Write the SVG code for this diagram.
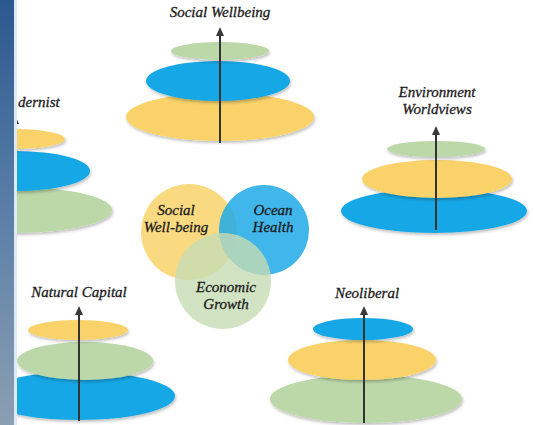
<svg xmlns="http://www.w3.org/2000/svg" width="535" height="425" viewBox="0 0 535 425">
<defs>
<linearGradient id="side" x1="0" y1="0" x2="0" y2="1">
<stop offset="0" stop-color="#2c5890"/>
<stop offset="0.5" stop-color="#5b7fa8"/>
<stop offset="1" stop-color="#8b9fb2"/>
</linearGradient>
<filter id="sh" x="-10%" y="-30%" width="120%" height="170%">
<feDropShadow dx="1" dy="2" stdDeviation="1.5" flood-color="#000" flood-opacity="0.25"/>
</filter>
<clipPath id="clipL"><rect x="17" y="0" width="518" height="425"/></clipPath>
</defs>
<style>
.t{font-family:"Liberation Serif","DejaVu Serif",serif;font-style:italic;font-size:15px;fill:#1a1a1a;stroke:#1a1a1a;stroke-width:0.3;text-anchor:middle}
.y{fill:#f9d36a;filter:url(#sh)}
.b{fill:#17a7e6;filter:url(#sh)}
.g{fill:#bcd8a9;filter:url(#sh)}
.ax{stroke:#333;stroke-width:2;fill:none}
.ah{fill:#3a3a3a}
</style>
<rect width="535" height="425" fill="#ffffff"/>
<rect x="0" y="0" width="15" height="425" fill="url(#side)"/>
<rect x="14" y="0" width="3" height="425" fill="#dde9f5"/>

<g id="modernist" clip-path="url(#clipL)">
<text class="t" x="18" y="107" style="text-anchor:start">dernist</text>
<ellipse class="g" cx="15" cy="210" rx="97" ry="23"/>
<ellipse class="b" cx="15" cy="171" rx="75" ry="20"/>
<ellipse class="y" cx="15" cy="139" rx="50" ry="10"/>
</g>

<g id="social-wellbeing">
<text class="t" x="220" y="17">Social Wellbeing</text>
<ellipse class="y" cx="220" cy="117" rx="94" ry="24"/>
<ellipse class="b" cx="218" cy="81" rx="72" ry="20"/>
<ellipse class="g" cx="220" cy="51" rx="49" ry="9"/>
</g>

<g id="environment-worldviews">
<text class="t" x="437" y="97">Environment</text>
<text class="t" x="437" y="114">Worldviews</text>
<ellipse class="b" cx="434" cy="211" rx="93" ry="22"/>
<ellipse class="y" cx="437" cy="179" rx="75" ry="19"/>
<ellipse class="g" cx="436" cy="149" rx="49" ry="8"/>
</g>

<g id="natural-capital" clip-path="url(#clipL)">
<text class="t" x="79" y="297">Natural Capital</text>
<ellipse class="b" cx="79" cy="396" rx="96" ry="24"/>
<ellipse class="g" cx="85" cy="361" rx="68" ry="19"/>
<ellipse class="y" cx="78" cy="330" rx="50" ry="10"/>
</g>

<g id="neoliberal">
<text class="t" x="367" y="298">Neoliberal</text>
<ellipse class="g" cx="366" cy="399" rx="96" ry="24"/>
<ellipse class="y" cx="362" cy="360" rx="74" ry="20"/>
<ellipse class="b" cx="363" cy="329" rx="50" ry="11"/>
</g>

<g id="venn">
<circle cx="189" cy="232" r="48" fill="#f9d36a" fill-opacity="0.85"/>
<circle cx="264" cy="230" r="45" fill="#1ea9e6" fill-opacity="0.85"/>
<circle cx="223" cy="281" r="48" fill="#c6dcb4" fill-opacity="0.8"/>
<text class="t" x="176" y="215">Social</text>
<text class="t" x="176" y="232">Well-being</text>
<text class="t" x="273" y="215">Ocean</text>
<text class="t" x="273" y="232">Health</text>
<text class="t" x="226" y="292">Economic</text>
<text class="t" x="226" y="309">Growth</text>
</g>

<g id="connectors">
<line class="ax" x1="220" y1="143" x2="220" y2="34"/>
<polygon class="ah" points="220,27 224,36 216,36"/>
<line class="ax" x1="436" y1="230" x2="436" y2="133"/>
<polygon class="ah" points="436,126 440,135 432,135"/>
<line class="ax" x1="79" y1="421" x2="79" y2="313"/>
<polygon class="ah" points="79,306 83,315 75,315"/>
<line class="ax" x1="364" y1="423" x2="364" y2="313"/>
<polygon class="ah" points="364,306 368,315 360,315"/>
<g clip-path="url(#clipL)">
<polygon class="ah" points="15,115 19,124 11,124"/>
</g>
</g>
</svg>
